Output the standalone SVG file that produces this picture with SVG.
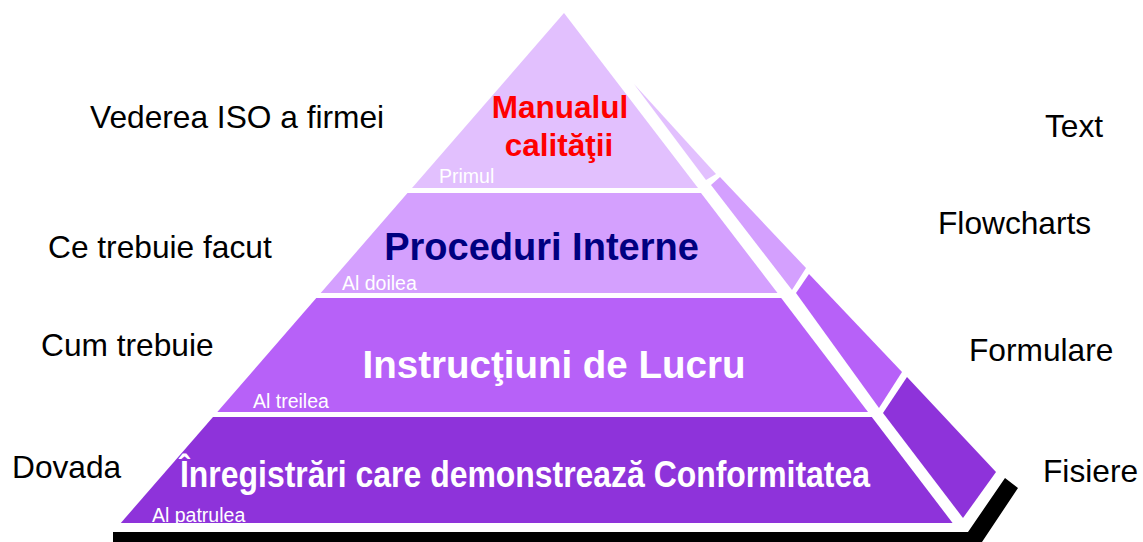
<svg xmlns="http://www.w3.org/2000/svg" width="1143" height="542" viewBox="0 0 1143 542">
<style>
.lbl{font-family:"Liberation Sans",Arial,sans-serif;font-size:31.7px;fill:#000}
.sm{font-family:"Liberation Sans",Arial,sans-serif;font-size:19.5px;fill:#fff}
.big{font-family:"Liberation Sans",Arial,sans-serif;font-weight:bold;text-anchor:middle}
.c1{fill:#E2C0FE}.c2{fill:#D4A0FE}.c3{fill:#B761F8}.c4{fill:#8E33DA}
</style>
<rect width="1143" height="542" fill="#fff"/>
<g id="base">
<polygon points="113,532 968,532 1005,478 1018,488 982,542 113,542" fill="#000"/>
</g>
<g id="side">
<polygon class="c1" points="634,84 716,174 706,180"/>
<polygon class="c2" points="711,185 720,177 806,268 792,290"/>
<polygon class="c3" points="796,293 809,274 902,372 879,408"/>
<polygon class="c4" points="883,413 907,377 996,472 963,518"/>
</g>
<g id="layer1">
<polygon class="c1" points="564,13 698,188 412,188"/>
<text class="big" x="560" y="118" font-size="31.5" fill="#FF0000">Manualul</text>
<text class="big" x="559" y="156" font-size="31.5" fill="#FF0000">calităţii</text>
<text class="sm" x="439" y="183">Primul</text>
</g>
<g id="layer2">
<polygon class="c2" points="407.5,193 701,193 777.5,293 320.7,293"/>
<text class="big" x="541.5" y="260" font-size="38" fill="#000080">Proceduri Interne</text>
<text class="sm" x="342" y="290">Al doilea</text>
</g>
<g id="layer3">
<polygon class="c3" points="316.3,298 781.2,298 868,412 217.3,412"/>
<text class="big" x="554" y="378" font-size="38.5" fill="#fff">Instrucţiuni de Lucru</text>
<text class="sm" x="253" y="408">Al treilea</text>
</g>
<g id="layer4">
<polygon class="c4" points="213,417 871.8,417 952.6,523 120.8,523"/>
<text class="big" x="525" y="487" font-size="36" fill="#fff" textLength="690" lengthAdjust="spacingAndGlyphs">Înregistrări care demonstrează Conformitatea</text>
<text class="sm" x="152" y="522">Al patrulea</text>
</g>
<g id="labels">
<text class="lbl" x="90" y="128">Vederea ISO a firmei</text>
<text class="lbl" x="48" y="258">Ce trebuie facut</text>
<text class="lbl" x="41" y="356">Cum trebuie</text>
<text class="lbl" x="12" y="478">Dovada</text>
<text class="lbl" x="1045" y="137">Text</text>
<text class="lbl" x="938" y="234">Flowcharts</text>
<text class="lbl" x="969" y="361">Formulare</text>
<text class="lbl" x="1043" y="482">Fisiere</text>
</g>
</svg>
